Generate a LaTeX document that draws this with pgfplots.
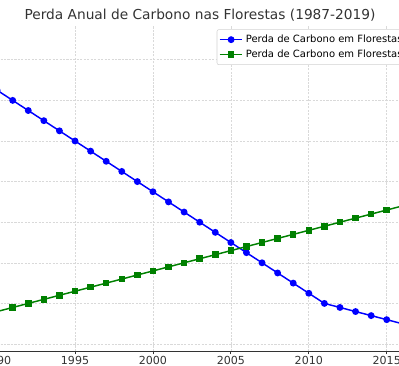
\documentclass[border=0pt]{standalone}
\usepackage{pgfplots}
\pgfplotsset{compat=1.18}
\usepackage{fontspec}
\setmainfont{DejaVu Sans}
\pgfplotstableread{
year trop temp
1987 7.00 0.5
1988 6.75 0.6
1989 6.50 0.7
1990 6.25 0.8
1991 6.00 0.9
1992 5.75 1.0
1993 5.50 1.1
1994 5.25 1.2
1995 5.00 1.3
1996 4.75 1.4
1997 4.50 1.5
1998 4.25 1.6
1999 4.00 1.7
2000 3.75 1.8
2001 3.50 1.9
2002 3.25 2.0
2003 3.00 2.1
2004 2.75 2.2
2005 2.50 2.3
2006 2.25 2.4
2007 2.00 2.5
2008 1.75 2.6
2009 1.50 2.7
2010 1.25 2.8
2011 1.00 2.9
2012 0.90 3.0
2013 0.80 3.1
2014 0.70 3.2
2015 0.60 3.3
2016 0.50 3.4
2017 0.40 3.5
2018 0.30 3.6
2019 0.20 3.7
}\datatable
\definecolor{mplblue}{RGB}{0,0,255}
\definecolor{mplgreen}{RGB}{0,128,0}
\begin{document}
\begin{tikzpicture}
\useasboundingbox (0,0) rectangle (299.25pt,273.75pt);
\clip (0,0) rectangle (299.25pt,273.75pt);
\node[anchor=base, font=\fontsize{10.3}{12}\selectfont, text=black!80, inner sep=0pt] at (150pt,259.3pt) {Perda Anual de Carbono nas Florestas (1987-2019)};
\begin{axis}[
  width=303.9pt, height=243.4pt, scale only axis,
  at={(-2.175pt,10.5pt)}, anchor=south west,
  xmin=1990, xmax=2016, ymin=-0.172, ymax=7.82,
  separate axis lines,
  axis x line*=bottom, axis y line*=left,
  axis line style={-},
  x axis line style={black!80, line width=0.75pt},
  y axis line style={draw=none},
  xtick={1990,1995,...,2015},
  ytick={0,1,...,7}, yticklabels=\empty,
  ytick style={draw=none},
  tick align=outside,
  major tick length=2.6pt,
  xtick style={black!80, line width=0.6pt},
  /pgf/number format/1000 sep={},
  /pgf/number format/assume math mode=true,
  xticklabel style={font=\fontsize{8.3}{10}\selectfont, text=black!80, yshift=2.4pt},
  grid=major,
  major grid style={dash pattern=on 1.6pt off 1pt, gray!30, line width=0.45pt},
  legend style={at={(rel axis cs:0.542,0.9914)}, anchor=north west,
    draw=gray!35, fill=white, rounded corners=1.5pt,
    font=\fontsize{7.5}{9}\selectfont, inner xsep=1.5pt, inner ysep=2pt,
    row sep=0pt},
  legend cell align=left,
]
\addplot[mplblue, line width=1.1pt, mark=*, mark size=2pt] table[x=year,y=trop] {\datatable};
\addlegendentry{Perda de Carbono em Florestas Tropicais}
\addplot[mplgreen, line width=1.1pt, mark=square*, mark size=1.9pt] table[x=year,y=temp] {\datatable};
\addlegendentry{Perda de Carbono em Florestas Temperadas}
\end{axis}
\end{tikzpicture}
\end{document}
